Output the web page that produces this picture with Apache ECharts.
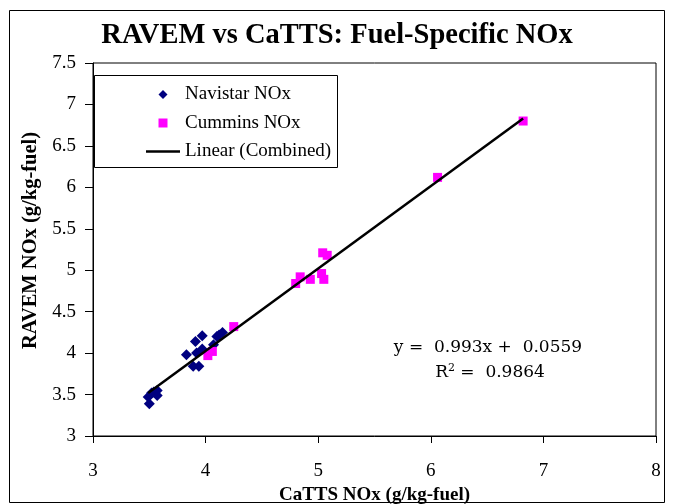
<!DOCTYPE html>
<html lang="en">
<head>
  <meta charset="UTF-8">
  <script src="https://cdn.jsdelivr.net/npm/echarts@6/dist/echarts.min.js"></script>
  <title>RAVEM vs CaTTS</title>
  <style>
    html, body { margin: 0; padding: 0; background: #fff; }
    #chart { width: 674px; height: 504px; }
  </style>
</head>
<body>
<div id="chart"></div>
<script>
  // Navistar NOx [CaTTS, RAVEM]
  const navistar = [
    [3.50, 3.39], [3.49, 3.47], [3.52, 3.52], [3.57, 3.49], [3.57, 3.55], [3.54, 3.53],
    [3.83, 3.98], [3.91, 4.14], [3.97, 4.21], [3.89, 3.84], [3.94, 3.84], [3.92, 4.00],
    [3.97, 4.05], [4.07, 4.10], [4.10, 4.20], [4.15, 4.25], [4.12, 4.22]
  ];
  // Cummins NOx
  const cummins = [
    [4.02, 3.97], [4.06, 4.02], [4.25, 4.32], [5.04, 5.21], [5.08, 5.18], [4.84, 4.92],
    [4.80, 4.84], [4.93, 4.89], [5.03, 4.96], [5.05, 4.89], [6.06, 6.12], [6.82, 6.80]
  ];
  // Linear (Combined) end points
  const trend = [[3.49, 3.52], [6.82, 6.83]];

  const equation = 'y =  0.993x +  0.0559';
  const rSquared = '0.9864';

  const serif = 'Liberation Serif';
  const chart = echarts.init(document.getElementById('chart'));

  chart.setOption({
    animation: false,
    backgroundColor: '#fff',
    textStyle: { fontFamily: serif, color: '#000' },
    title: {
      text: 'RAVEM vs CaTTS: Fuel-Specific NOx',
      left: 'center',
      top: 21,
      padding: 0,
      textStyle: { fontFamily: serif, fontSize: 28.5, fontWeight: 'bold', color: '#000' }
    },
    grid: {
      left: 93, top: 63, right: 18, bottom: 68,
      containLabel: false,
      outerBoundsMode: 'none',
      show: true, borderColor: '#000', borderWidth: 1
    },
    legend: {
      orient: 'vertical',
      left: 141, top: 80,
      itemWidth: 34, itemHeight: 9,
      itemGap: 9.5,
      symbolKeepAspect: true,
      textStyle: { fontFamily: serif, fontSize: 19, color: '#000' },
      data: [
        { name: 'Navistar NOx', icon: 'path://M0,-1L1,0L0,1L-1,0Z' },
        { name: 'Cummins NOx', icon: 'path://M0,0L1,0L1,1L0,1Z' },
        { name: 'Linear (Combined)', icon: 'path://M0,0L34,0L34,2.4L0,2.4Z' }
      ]
    },
    xAxis: {
      type: 'value',
      min: 3, max: 8, interval: 1,
      name: 'CaTTS NOx (g/kg-fuel)',
      nameLocation: 'middle',
      nameGap: 44,
      nameTextStyle: { fontFamily: serif, fontSize: 19, fontWeight: 'bold', color: '#000' },
      axisLine: { lineStyle: { color: '#000' } },
      axisTick: { show: true, length: 7, lineStyle: { color: '#000' } },
      axisLabel: { fontFamily: serif, fontSize: 19, color: '#000', margin: 26 },
      splitLine: { show: false }
    },
    yAxis: {
      type: 'value',
      min: 3, max: 7.5, interval: 0.5,
      name: 'RAVEM NOx (g/kg-fuel)',
      nameLocation: 'middle',
      nameGap: 51,
      nameTextStyle: {
        fontFamily: serif, fontSize: 20.5, fontWeight: 'bold', color: '#000',
        padding: [0, 0, 0, 18]
      },
      axisLine: { show: true, lineStyle: { color: '#000' } },
      axisTick: { show: true, length: 8, lineStyle: { color: '#000' } },
      axisLabel: { fontFamily: serif, fontSize: 19, color: '#000', margin: 17 },
      splitLine: { show: false }
    },
    series: [
      {
        name: 'Linear (Combined)',
        type: 'line',
        data: trend,
        symbol: 'none',
        z: 3,
        lineStyle: { color: '#000', width: 2.5 },
        itemStyle: { color: '#000' }
      },
      {
        name: 'Navistar NOx',
        type: 'scatter',
        data: navistar,
        symbol: 'diamond',
        symbolSize: 11,
        z: 2,
        itemStyle: { color: '#000080', opacity: 1 }
      },
      {
        name: 'Cummins NOx',
        type: 'scatter',
        data: cummins,
        symbol: 'rect',
        symbolSize: 9,
        z: 2,
        itemStyle: { color: '#ff00ff', opacity: 1 }
      }
    ],
    graphic: [
      {
        type: 'rect',
        shape: { x: 9.5, y: 10.5, width: 655, height: 492 },
        style: { fill: 'none', stroke: '#000', lineWidth: 1 },
        z: -1
      },
      {
        type: 'rect',
        shape: { x: 94.5, y: 75.5, width: 243, height: 92 },
        style: { fill: '#fff', stroke: '#000', lineWidth: 1 },
        z: 0
      },
      {
        type: 'text',
        x: 488, y: 348,
        style: {
          text: equation, font: '17px "DejaVu Serif"', fill: '#000',
          align: 'center', verticalAlign: 'middle'
        },
        z: 5
      },
      {
        type: 'text',
        x: 490, y: 373,
        style: {
          text: 'R{sup|2} =  ' + rSquared,
          font: '17px "DejaVu Serif"',
          fill: '#000',
          align: 'center', verticalAlign: 'middle',
          rich: {
            sup: { fontSize: 11, fontFamily: 'DejaVu Serif', verticalAlign: 'top', padding: [0, 0, 9, 0] }
          }
        },
        z: 5
      }
    ]
  });
</script>
</body>
</html>
